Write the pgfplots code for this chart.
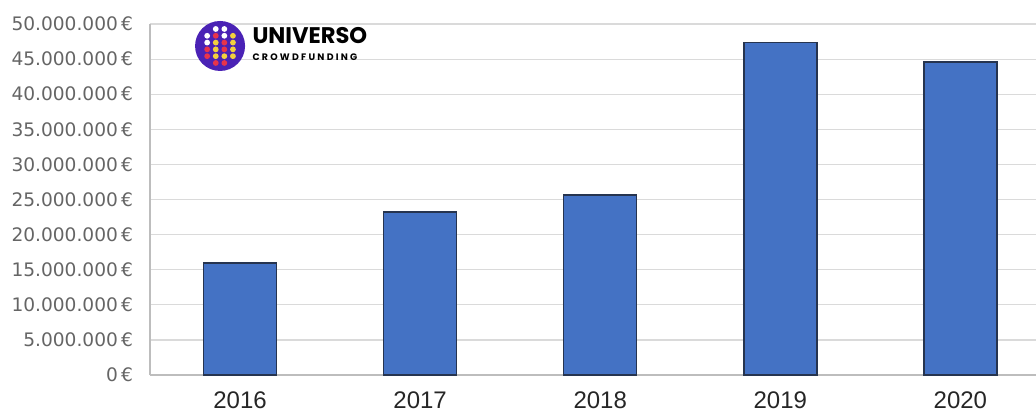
\documentclass[border=0pt]{standalone}
\usepackage{pgfplots}
\pgfplotsset{compat=1.18}
\usepackage{fontspec}
\newfontfamily\ylabfont{DejaVu Sans}
\newfontfamily\xlabfont{Liberation Sans}
\newfontfamily\logofont{Poppins}
\definecolor{barblue}{HTML}{4472C4}
\definecolor{baredge}{HTML}{26344F}
\definecolor{gridgray}{HTML}{DADADA}
\definecolor{axgray}{HTML}{BDBDBD}
\definecolor{labgray}{HTML}{656565}
\definecolor{logopurple}{HTML}{4A22B5}
\definecolor{logored}{HTML}{E8344B}
\definecolor{logoyellow}{HTML}{F3D03E}
\begin{document}
\begin{tikzpicture}
\begin{axis}[
  name=ax,
  scale only axis,
  width=443pt, height=175.5pt,
  xmin=-0.5, xmax=4.42,
  ymin=0, ymax=50000000,
  axis lines=left,
  axis line style={-, draw=axgray, line width=0.8pt},
  ybar, bar width=36.5pt,
  xtick=data,
  xticklabels={2016,2017,2018,2019,2020},
  ytick={0,5000000,10000000,15000000,20000000,25000000,30000000,35000000,40000000,45000000,50000000},
  yticklabels={0\,€,5.000.000\,€,10.000.000\,€,15.000.000\,€,20.000.000\,€,25.000.000\,€,30.000.000\,€,35.000.000\,€,40.000.000\,€,45.000.000\,€,50.000.000\,€},
  scaled y ticks=false,
  major tick length=0pt,
  ymajorgrids,
  grid style={draw=gridgray, line width=0.6pt},
  yticklabel style={font=\ylabfont\fontsize{9.3}{9.3}\selectfont, text=labgray, xshift=-5pt},
  xticklabel style={font=\xlabfont\fontsize{12}{12}\selectfont, text=black!85, yshift=-5pt},
  clip=false,
]
\addplot[fill=barblue, draw=baredge, line width=0.75pt] coordinates {
  (0,15950000) (1,23200000) (2,25650000) (3,47400000) (4,44600000)
};
\coordinate (logo) at (axis cs:-0.111,46870000);
\coordinate (logotext) at (axis cs:0.067,48300000);
\coordinate (logosub) at (axis cs:0.067,45250000);
\end{axis}
% logo decoration
\fill[logopurple] (logo) circle[radius=12.5pt];
\foreach \c/\r/\col in {
  2/1/white, 3/1/white,
  1/2/white, 2/2/logored, 3/2/white, 4/2/logoyellow,
  1/3/white, 2/3/logoyellow, 3/3/logored, 4/3/logoyellow,
  1/4/logored, 2/4/logoyellow, 3/4/logored, 4/4/logoyellow,
  1/5/logored, 2/5/logoyellow, 3/5/logoyellow, 4/5/logoyellow,
  2/6/logored, 3/6/logored} {
  \fill[\col] ([shift={({(\c-2.5)*4.3pt},{(3.5-\r)*3.4pt})}]logo) circle[radius=1.45pt];
}
\node[anchor=west, inner sep=0pt, font=\logofont\bfseries\fontsize{11.3}{11.3}\selectfont] at (logotext) {UNIVERSO};
\node[anchor=west, inner sep=0pt, font=\logofont\bfseries\fontsize{4.7}{4.7}\selectfont\addfontfeatures{LetterSpace=24}] at (logosub) {CROWDFUNDING};
\pgfresetboundingbox
\path[use as bounding box] ([xshift=-75pt,yshift=-19.5pt]ax.south west) rectangle ([yshift=12pt]ax.north east);
\end{tikzpicture}
\end{document}
